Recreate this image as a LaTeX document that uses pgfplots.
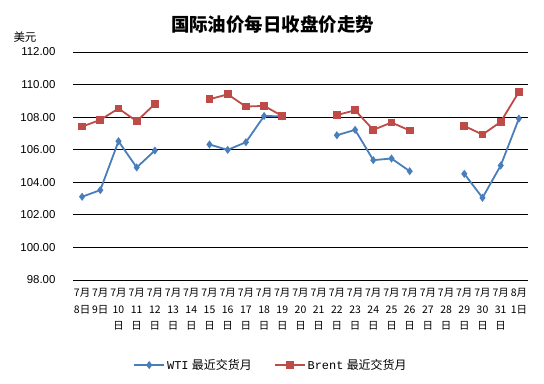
\documentclass[border=0pt]{standalone}
\usepackage{fontspec}
\setmainfont{Liberation Sans}
\setmonofont{Liberation Mono}
\newfontfamily\cjk{Noto Sans CJK SC}
\usepackage{pgfplots}
\pgfplotsset{compat=1.18}
\definecolor{wti}{HTML}{4A7EBB}
\definecolor{brent}{HTML}{BE4B48}
\begin{document}
\begin{tikzpicture}
\useasboundingbox (-73bp,-104bp) rectangle (471bp,280bp);
\begin{axis}[
  at={(0,0)}, anchor=south west,
  scale only axis, width=455bp, height=228bp,
  xmin=-0.5, xmax=24.5, ymin=98, ymax=112,
  axis x line*=bottom, axis y line*=left,
  y axis line style={draw=none},
  x axis line style={black, line width=0.8bp, -},
  major tick length=0pt,
  ytick={98,100,...,112},
  ymajorgrids, grid style={black, line width=0.8bp},
  xtick={0,...,24},
  xticklabels={{7月\\8日},{7月\\9日},{7月\\10\\日},{7月\\11\\日},{7月\\12\\日},{7月\\13\\日},{7月\\14\\日},{7月\\15\\日},{7月\\16\\日},{7月\\17\\日},{7月\\18\\日},{7月\\19\\日},{7月\\20\\日},{7月\\21\\日},{7月\\22\\日},{7月\\23\\日},{7月\\24\\日},{7月\\25\\日},{7月\\26\\日},{7月\\27\\日},{7月\\28\\日},{7月\\29\\日},{7月\\30\\日},{7月\\31\\日},{8月\\1日}},
  xticklabel style={font=\cjk\fontsize{10.5}{16.5}\selectfont, align=center, yshift=-5bp, inner xsep=0pt},
  yticklabel style={font=\fontsize{11.5}{12}\selectfont, xshift=-14bp,
    /pgf/number format/.cd, fixed, fixed zerofill, precision=2, assume math mode=true},
  unbounded coords=jump,
  clip=false,
  legend style={at={(0.435,-0.373)}, anchor=center, draw=none, legend columns=2,
    font=\fontsize{12}{13}\selectfont,
    /tikz/every even column/.append style={column sep=20bp}},
  legend image code/.code={\draw[mark repeat=2,mark phase=2] plot coordinates {(0cm,0cm) (0.53cm,0cm) (1.06cm,0cm)};},
]
\addplot[wti, line width=1.8bp, mark=diamond*, mark size=2.6bp, mark options={solid, fill=wti}] coordinates {
(0,103.11) (1,103.52) (2,106.52) (3,104.91) (4,105.95) (5,nan) (6,nan)
(7,106.32) (8,105.99) (9,106.46) (10,108.07) (11,108.05) (12,nan) (13,nan)
(14,106.89) (15,107.22) (16,105.36) (17,105.46) (18,104.68) (19,nan) (20,nan)
(21,104.52) (22,103.05) (23,105.03) (24,107.91)};
\addlegendentry{{\ttfamily WTI} {\cjk 最近交货月}}
\addplot[brent, line width=1.8bp, mark=square*, mark size=3bp, mark options={solid, fill=brent}] coordinates {
(0,107.42) (1,107.83) (2,108.53) (3,107.75) (4,108.81) (5,nan) (6,nan)
(7,109.10) (8,109.40) (9,108.65) (10,108.69) (11,108.07) (12,nan) (13,nan)
(14,108.13) (15,108.42) (16,107.22) (17,107.67) (18,107.18) (19,nan) (20,nan)
(21,107.46) (22,106.93) (23,107.71) (24,109.55)};
\addlegendentry{{\ttfamily Brent} {\cjk 最近交货月}}
\node[font=\cjk\fontsize{11.5}{12}\selectfont, xshift=-48bp, yshift=15bp] at (rel axis cs:0,1) {美元};
\node[font=\cjk\bfseries\fontsize{18.5}{20}\selectfont, xshift=-28bp, yshift=27bp] at (rel axis cs:0.5,1) {国际油价每日收盘价走势};
\end{axis}
\end{tikzpicture}
\end{document}
